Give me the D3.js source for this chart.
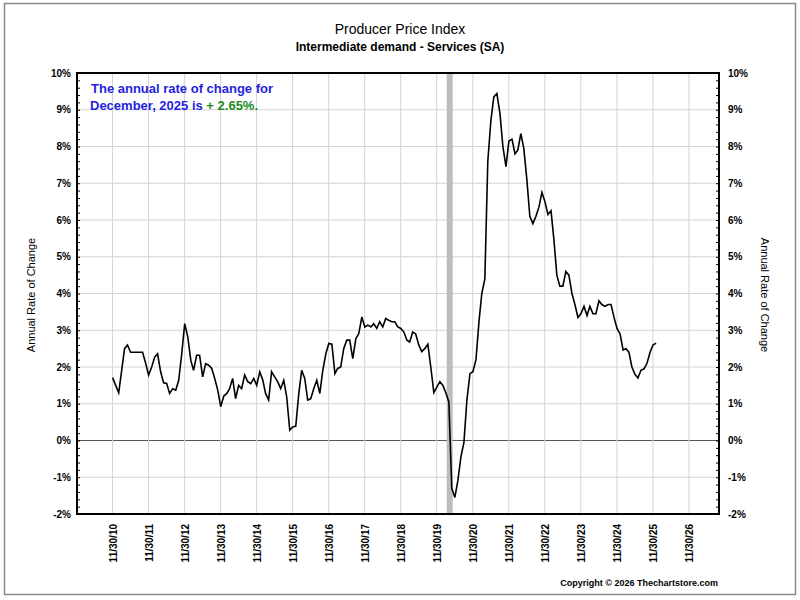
<!DOCTYPE html>
<html>
<head>
<meta charset="utf-8">
<script src="https://cdn.jsdelivr.net/npm/d3@7"></script>
<style>
  body { margin: 0; background: #fff; }
  svg { font-family: Arial, "Liberation Sans", sans-serif; }
</style>
</head>
<body>
<svg id="chart" width="800" height="600"></svg>
<script>
// monthly values, Dec 2010 .. Dec 2025
var startMonth = new Date(2010, 11, 1);
var values = [
  1.71, 1.5, 1.3, 1.87, 2.5, 2.6, 2.4, 2.4, 2.4, 2.4, 2.4, 2.1,
  1.78, 2.0, 2.27, 2.36, 1.87, 1.57, 1.55, 1.28, 1.41, 1.37, 1.64, 2.36,
  3.18, 2.82, 2.18, 1.91, 2.32, 2.32, 1.73, 2.09, 2.05, 1.96, 1.69, 1.37,
  0.92, 1.21, 1.28, 1.41, 1.69, 1.14, 1.5, 1.41, 1.78, 1.6, 1.55, 1.69,
  1.5, 1.87, 1.64, 1.28, 1.1, 1.87, 1.73, 1.6, 1.41, 1.64, 1.19, 0.28,
  0.37, 0.39, 1.28, 1.91, 1.69, 1.1, 1.14, 1.41, 1.64, 1.28, 1.91, 2.36,
  2.64, 2.62, 1.82, 1.96, 2.0, 2.5, 2.73, 2.73, 2.23, 2.77, 2.91, 3.36,
  3.09, 3.14, 3.09, 3.18, 3.05, 3.23, 3.09, 3.32, 3.27, 3.23, 3.23, 3.09,
  3.05, 2.95, 2.73, 2.68, 2.95, 2.9, 2.6, 2.42, 2.5, 2.62, 2.0, 1.3,
  1.45, 1.6, 1.5, 1.3, 1.05, -1.3, -1.55, -1.1, -0.45, -0.05, 1.1, 1.82,
  1.87, 2.2, 3.25, 4.0, 4.4, 7.6, 8.7, 9.35, 9.44, 8.9, 8.0, 7.45,
  8.15, 8.2, 7.8, 7.9, 8.35, 7.95, 7.1, 6.1, 5.9, 6.1, 6.35, 6.75,
  6.5, 6.15, 6.25, 5.5, 4.5, 4.2, 4.2, 4.6, 4.5, 4.0, 3.7, 3.35,
  3.45, 3.65, 3.4, 3.65, 3.45, 3.45, 3.8, 3.7, 3.65, 3.7, 3.7, 3.35,
  3.05, 2.9, 2.46, 2.5, 2.4, 2.0, 1.8, 1.7, 1.91, 1.95, 2.1, 2.4,
  2.6, 2.65
];
var xTickLabels = ["11/30/10","11/30/11","11/30/12","11/30/13","11/30/14","11/30/15","11/30/16","11/30/17",
  "11/30/18","11/30/19","11/30/20","11/30/21","11/30/22","11/30/23","11/30/24","11/30/25","11/30/26"];
var yTicks = [-2, -1, 0, 1, 2, 3, 4, 5, 6, 7, 8, 9, 10];
var recession = [new Date(2020, 2, 10), new Date(2020, 4, 10)];

var data = values.map(function (v, i) {
  return { date: d3.timeMonth.offset(startMonth, i), value: v };
});
var tickDates = xTickLabels.map(function (s) { return d3.timeParse("%m/%d/%y")(s); });

var svg = d3.select("#chart");
var margin = { left: 77, right: 81, top: 73, bottom: 86 };
var width = 800, height = 600;

var x = d3.scaleTime()
  .domain([new Date(2009, 11, 5), new Date(2027, 9, 1)])
  .range([margin.left, width - margin.right]);
var y = d3.scaleLinear()
  .domain([-2, 10])
  .range([height - margin.bottom, margin.top]);

// outer frame
svg.append("rect").attr("x", 4.5).attr("y", 3.5).attr("width", 791).attr("height", 591)
  .attr("fill", "none").attr("stroke", "#888").attr("stroke-width", 1.5);

// grid
svg.append("g").selectAll("line").data(yTicks).join("line")
  .attr("x1", margin.left).attr("x2", width - margin.right)
  .attr("y1", d => y(d)).attr("y2", d => y(d))
  .attr("stroke", d => d === 0 ? "#555" : "#d4d4d4").attr("stroke-width", 1);
svg.append("g").selectAll("line").data(tickDates).join("line")
  .attr("x1", d => x(d)).attr("x2", d => x(d))
  .attr("y1", margin.top).attr("y2", height - margin.bottom)
  .attr("stroke", "#d4d4d4");

// recession band
svg.append("rect")
  .attr("x", x(recession[0])).attr("width", x(recession[1]) - x(recession[0]))
  .attr("y", margin.top).attr("height", y(-2) - y(10))
  .attr("fill", "#bdbdbd");

// line
var line = d3.line().x(d => x(d.date)).y(d => y(d.value));
svg.append("path").datum(data).attr("d", line)
  .attr("fill", "none").attr("stroke", "#000").attr("stroke-width", 1.6);

// plot frame
svg.append("rect").attr("x", margin.left).attr("y", margin.top)
  .attr("width", width - margin.right - margin.left).attr("height", y(-2) - y(10))
  .attr("fill", "none").attr("stroke", "#000").attr("stroke-width", 2);

// axes
var halfYears = d3.timeMonth.every(6).range(x.domain()[0], x.domain()[1]).filter(d => d.getMonth() === 5 || d.getMonth() === 11)
  .map(d => d3.timeDay.offset(d, -1));
svg.append("g").attr("transform", `translate(0,${y(-2)})`)
  .call(d3.axisTop(x).tickValues(halfYears).tickSize(4).tickFormat(""))
  .call(g => g.select(".domain").remove());
svg.append("g").attr("transform", `translate(0,${y(10)})`)
  .call(d3.axisBottom(x).tickValues(halfYears).tickSize(4).tickFormat(""))
  .call(g => g.select(".domain").remove());
svg.append("g").attr("transform", `translate(0,${y(-2)})`)
  .call(d3.axisBottom(x).tickValues(tickDates).tickSize(0).tickPadding(0).tickFormat((d, i) => xTickLabels[i]))
  .call(g => g.select(".domain").remove())
  .selectAll("text")
  .attr("transform", "rotate(-90)")
  .attr("text-anchor", "end")
  .attr("x", -10).attr("y", 0).attr("dy", "0.35em")
  .attr("font-size", 10).attr("font-weight", "bold").attr("font-family", "Arial, sans-serif");

var minorY = d3.range(-2, 10.01, 0.2);
[[margin.left, d3.axisRight], [width - margin.right, d3.axisLeft]].forEach(function (p) {
  svg.append("g").attr("transform", `translate(${p[0]},0)`)
    .call(p[1](y).tickValues(minorY).tickSize(3).tickFormat(""))
    .call(g => g.select(".domain").remove());
});
svg.append("g").attr("transform", `translate(${margin.left},0)`)
  .call(d3.axisLeft(y).tickValues(yTicks).tickSize(0).tickPadding(6).tickFormat(d => d + "%"))
  .call(g => g.select(".domain").remove())
  .selectAll("text").attr("font-size", 10).attr("font-weight", "bold").attr("font-family", "Arial, sans-serif");
svg.append("g").attr("transform", `translate(${width - margin.right},0)`)
  .call(d3.axisRight(y).tickValues(yTicks).tickSize(0).tickPadding(9).tickFormat(d => d + "%"))
  .call(g => g.select(".domain").remove())
  .selectAll("text").attr("font-size", 10).attr("font-weight", "bold").attr("font-family", "Arial, sans-serif");

// titles
svg.append("text").attr("x", 400).attr("y", 34).attr("text-anchor", "middle")
  .attr("font-size", 14).text("Producer Price Index");
svg.append("text").attr("x", 400).attr("y", 51).attr("text-anchor", "middle")
  .attr("font-size", 12).attr("font-weight", "bold").text("Intermediate demand - Services (SA)");

svg.append("text").attr("transform", "translate(35,295) rotate(-90)").attr("text-anchor", "middle")
  .attr("font-size", 11).text("Annual Rate of Change");
svg.append("text").attr("transform", "translate(761,295) rotate(90)").attr("text-anchor", "middle")
  .attr("font-size", 11).text("Annual Rate of Change");

var note = svg.append("g").attr("font-size", 13).attr("font-weight", "bold");
note.append("text").attr("x", 91).attr("y", 93).attr("fill", "#1f1fe0").text("The annual rate of change for");
var t2 = note.append("text").attr("x", 90).attr("y", 110).attr("fill", "#1f1fe0");
t2.append("tspan").text("December, 2025 is ");
t2.append("tspan").attr("fill", "#1d8a1d").text("+ " + values[values.length - 1].toFixed(2) + "%.");

svg.append("text").attr("x", 718).attr("y", 586).attr("text-anchor", "end")
  .attr("font-size", 9).attr("font-weight", "bold").text("Copyright © 2026 Thechartstore.com");
</script>
</body>
</html>
